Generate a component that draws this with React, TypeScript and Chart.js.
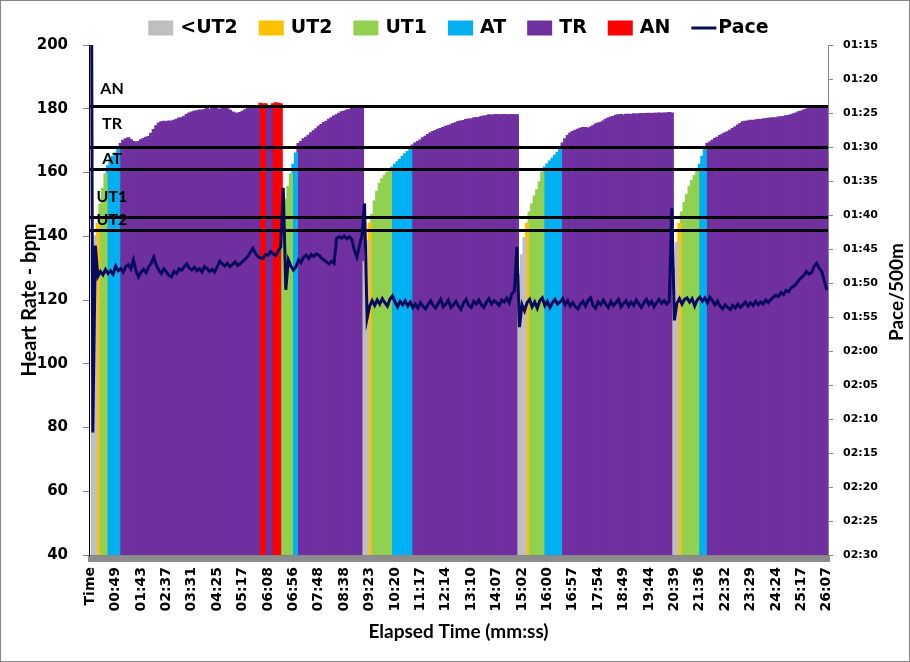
import { useEffect, useRef } from "react";
import { Chart, registerables } from "chart.js";

Chart.register(...registerables);

// X tick labels: one every 10 samples
const tickLabels = [
  "Time", "00:49", "01:43", "02:37", "03:31", "04:25", "05:17", "06:08", "06:56", "07:48",
  "08:38", "09:23", "10:20", "11:17", "12:14", "13:10", "14:07", "15:02", "16:00", "16:57",
  "17:54", "18:49", "19:44", "20:39", "21:36", "22:32", "23:29", "24:24", "25:17", "26:07",
];
const labelEvery = 10;

// Heart rate (bpm) per sample
const hrPiece1 = [
  null, 136, 140, 144, 150, 155, 159.5, 162, 164, 165, 166, 167.3,
  169, 170, 170.5, 170.8, 170.2, 169.6, 169.4, 169.6, 170.2, 170.6, 171, 171.2, 172.2, 173.4,
  174.6, 175.4, 175.8, 176, 175.8, 176.1, 176, 176.3, 176.6, 177, 177.1, 177.5, 178.1, 178.6,
  178.9, 179.1, 179.3, 179.5, 179.4, 179.7, 180, 179.6, 180, 180.1, 179.9, 179.7, 180.1, 180.2,
  179.9, 179.4, 178.9, 178.6, 178.5, 178.7, 179.1, 179.6, 180.1, 180.3, 180.5, 180.6, 180.7,
  181.6, 181.4, 181.5, 180.7, 180.8, 181.5, 181.8, 181.6, 181.5,
];
const hrPiece2 = [
  147, 151.5, 155.5, 159.5, 162.5, 166, 169, 169.6, 170.5, 171, 171.6, 172.4, 173, 173.6,
  174.4, 175, 175.6, 176, 176.6, 177.1, 177.6, 178, 178.5, 179, 179.1, 179.5, 179.6, 180,
  180.1, 180, 180.2, 180.1,
];
const hrPiece3 = [
  132, 138.5, 144, 146.8, 151, 154, 156.5, 158, 159, 160, 160.7, 161.6, 162.5, 163.3, 164,
  165, 165.8, 166.5, 167.4, 168.5, 169.2, 169.6, 170.1, 170.8, 171.3, 171.8, 172.4, 172.8,
  173.1, 173.5, 173.7, 174, 174.4, 174.6, 174.9, 175.3, 175.5, 175.9, 176.1, 176.2, 176.5,
  176.7, 176.7, 177, 177.2, 177.2, 177.5, 177.6, 177.7, 178, 177.9, 178, 178.1, 178, 178,
  178.1, 178, 178, 178.1, 178, 178,
];
const hrPiece4 = [
  128, 134, 139.5, 144, 147.5, 150, 152.5, 154.5, 157, 160, 161.6, 162.6, 163.5, 164.4, 165.3,
  166.2, 167.3, 169.2, 170.5, 171.5, 172.3, 172.8, 173.2, 173.5, 173.8, 174, 174, 173.8,
  174.2, 174.6, 175.1, 175.4, 175.6, 176.1, 176.6, 177, 177.3, 177.5, 177.9, 178, 178.1,
  177.9, 178.2, 178.2, 178.1, 178.3, 178.2, 178.3, 178.4, 178.3, 178.4, 178.5, 178.4, 178.5,
  178.5, 178.6, 178.5, 178.6, 178.6, 178.7, 178.6,
];
const hrPiece5 = [
  130, 138, 144, 147.5, 150.5, 153, 155.5, 157.5, 159, 160.5, 162.5, 165, 167.5, 169, 169.5,
  170, 170.6, 171, 171.5, 172, 172.4, 172.7, 173.2, 173.7, 174.2, 174.8, 175.3, 175.8, 176,
  176.1, 176.3, 176.2, 176.4, 176.5, 176.5, 176.7, 176.8, 176.9, 177, 177.1, 177, 177.3,
  177.4, 177.5, 177.7, 177.8, 178, 178.3, 178.6, 179, 179.2, 179.5, 179.8, 180.1, 180.2,
  180.2, 180.3, 180.2, 180.3, 180.3, 180.2,
];

// Pace per 500m in seconds per sample
const pacePiece1 = [
  0, 132, 104.5, 109, 108.3, 108.8, 108, 108.6, 108.2, 108.7, 107.5, 108.2, 107.9, 108.4,
  107.6, 107.3, 107.9, 106.6, 108.2, 109.1, 108.4, 108, 108.5, 107.6, 107.1, 106.2, 107.4,
  108.1, 108.6, 107.9, 108.4, 108.9, 109.1, 108.3, 108.6, 107.9, 108.1, 107.6, 107.2, 107.8,
  108.1, 107.7, 108.2, 107.9, 108.4, 107.6, 107.9, 108.3, 108, 108.4, 107.6, 106.8, 107.2,
  107.5, 107.1, 107.6, 107.3, 106.9, 107.4, 107.2, 106.8, 106.5, 106.1, 105.5, 104.9, 105.6,
  106.1, 106.3, 106.4, 105.8, 105.9, 105.4, 105.7, 106, 105.3, 104.7,
];
const pacePiece2 = [
  96, 111, 106.6, 107.5, 108.1, 107.6, 106.6, 107, 106.2, 105.9, 106.4, 105.8, 106.1, 105.7,
  105.9, 106.3, 106.6, 106.9, 107.2, 106.8, 107.1, 103.4, 103.2, 103.4, 103.1, 103.5, 103.2,
  103.6, 105.2, 106.2, 104.5, 103,
];
const pacePiece3 = [
  98.3, 115.2, 113.4, 112.6, 113.3, 112.5, 113.1, 112.3, 112.9, 113.4, 112.4, 111.9, 112.8,
  113.5, 112.7, 113.2, 112.6, 113.4, 112.8, 113.6, 113.1, 113.7, 112.9, 113.4, 113.8, 113.2,
  112.6, 113.3, 113.7, 113, 112.4, 113.5, 113.1, 112.5, 113.6, 113.2, 112.7, 113.4, 113.9,
  112.9, 112.4, 113.3, 113.6, 112.7, 113.1, 112.5, 113.2, 113.6, 112.8, 112.3, 113.1, 112.6,
  112.9, 113.3, 112.5, 112.8, 112.2, 112.9, 111.6, 111.2, 104.7,
];
const pacePiece4 = [
  116.5, 113.2, 114.1, 112.9, 112.4, 113.5, 112.8, 113.7, 112.6, 112.2, 113.3, 112.7, 113.6,
  112.9, 112.4, 113.1, 112.8, 112.3, 113.2, 112.6, 113.4, 112.9, 113.5, 113.8, 113.1, 112.7,
  113.4, 112.6, 112.2, 113.3, 113.7, 112.8, 113.2, 112.5, 113.1, 113.6, 112.7, 113.3, 112.9,
  112.4, 113.5, 113, 112.6, 113.4, 112.8, 113.3, 112.5, 113.1, 113.6, 112.9, 112.4, 113.2,
  112.7, 113.5, 112.9, 112.4, 113, 112.6, 113.1, 112.7, 99,
];
const pacePiece5 = [
  115.5, 113, 112.3, 113.1, 112.4, 112.2, 112.8, 112.3, 113.4, 112.5, 112.1, 112.7, 112.2,
  112.9, 112.1, 112.6, 113.2, 112.7, 113.4, 113.8, 113.2, 113.6, 113.9, 113.3, 113.7, 113.1,
  113.6, 113.2, 112.8, 113.4, 112.9, 113.3, 112.7, 113.2, 112.8, 113.1, 112.5, 112.9, 112.4,
  112.1, 111.8, 112, 111.4, 111.7, 111.1, 111.3, 110.7, 110.5, 110.1, 109.6, 109.2, 108.9,
  108.3, 108.7, 108.5, 107.6, 107.1, 107.8, 108.3, 109.6, 111,
];

const heartRate: (number | null)[] = [...hrPiece1, ...hrPiece2, ...hrPiece3, ...hrPiece4, ...hrPiece5];
const pace: number[] = [...pacePiece1, ...pacePiece2, ...pacePiece3, ...pacePiece4, ...pacePiece5];
const categories = heartRate.map((_, i) => String(i));

// Training zones
const zoneNames = ["<UT2", "UT2", "UT1", "AT", "TR", "AN"];
const zoneColors = ["#BFBFBF", "#FFC000", "#92D050", "#00B0F0", "#7030A0", "#FF0000"];
const zoneLower = [0, 142, 146, 161, 168, 181];

// Threshold lines
const thresholdNames = ["UT2", "UT1", "AT", "TR", "AN"];
const thresholdValues = [142, 146, 161, 168, 181];
const thresholdLabelOffsets = [-10, -20, -10, -23, -17];

const paceColor = "#0a0a5c";

function zoneOf(v: number) {
  let z = 0;
  for (let k = 0; k < zoneLower.length; k++) if (v >= zoneLower[k]) z = k;
  return z;
}

function fmtPace(v: number) {
  const m = Math.floor(v / 60);
  const s = Math.round(v - m * 60);
  return `${String(m).padStart(2, "0")}:${String(s).padStart(2, "0")}`;
}

const thresholdPlugin = {
  id: "thresholds",
  beforeDatasetDraw(chart: any, args: any) {
    if (args.meta.type !== "line") return;
    const { ctx, chartArea } = chart;
    const y = chart.scales.y;
    ctx.save();
    ctx.strokeStyle = "#000";
    ctx.lineWidth = 3;
    thresholdValues.forEach((v) => {
      const py = Math.round(y.getPixelForValue(v)) + 0.5;
      ctx.beginPath();
      ctx.moveTo(chartArea.left, py);
      ctx.lineTo(chartArea.right, py);
      ctx.stroke();
    });
    ctx.fillStyle = "#000";
    ctx.font = "bold 16px Lato";
    ctx.textAlign = "center";
    ctx.textBaseline = "middle";
    thresholdValues.forEach((v, k) => {
      const py = y.getPixelForValue(v) + thresholdLabelOffsets[k];
      ctx.fillText(thresholdNames[k], chartArea.left + 23, py);
    });
    ctx.restore();
  },
};

const decorPlugin = {
  id: "decor",
  beforeDraw(chart: any) {
    const { ctx, width, height } = chart;
    ctx.save();
    ctx.fillStyle = "#fff";
    ctx.fillRect(0, 0, width, height);
    ctx.restore();
  },
  afterDraw(chart: any) {
    const { ctx, chartArea, width, height } = chart;
    ctx.save();
    // legend
    ctx.font = "bold 19px 'DejaVu Sans'";
    ctx.textBaseline = "middle";
    ctx.textAlign = "left";
    const items = chart.data.datasets.map((ds: any) => ({
      label: ds.label,
      color: ds.type === "line" ? ds.borderColor : ds.backgroundColor,
      isLine: ds.type === "line",
      w: 0,
    }));
    const boxW = 25, boxH = 15, gapText = 7, gapItem = 21, lineW = 25, lineGap = 2;
    let total = 0;
    items.forEach((it: any, k: number) => {
      it.w = (it.isLine ? lineW + lineGap : boxW + gapText) + ctx.measureText(it.label).width;
      total += it.w + (k ? gapItem : 0);
    });
    let x = (chartArea.left + chartArea.right) / 2 - total / 2;
    const cy = 28;
    items.forEach((it: any) => {
      if (it.isLine) {
        ctx.strokeStyle = it.color;
        ctx.lineWidth = 3;
        ctx.beginPath();
        ctx.moveTo(x, cy);
        ctx.lineTo(x + lineW, cy);
        ctx.stroke();
        ctx.fillStyle = "#000";
        ctx.fillText(it.label, x + lineW + lineGap, cy);
      } else {
        ctx.fillStyle = it.color;
        ctx.fillRect(x, cy - boxH / 2, boxW, boxH);
        ctx.fillStyle = "#000";
        ctx.fillText(it.label, x + boxW + gapText, cy);
      }
      x += it.w + gapItem;
    });
    // right axis title
    ctx.save();
    ctx.translate(897, 292);
    ctx.rotate(-Math.PI / 2);
    ctx.font = "bold 19px Lato";
    ctx.textAlign = "center";
    ctx.textBaseline = "middle";
    ctx.fillStyle = "#000";
    ctx.fillText("Pace/500m", 0, 0);
    ctx.restore();
    // frame
    ctx.strokeStyle = "#868686";
    ctx.lineWidth = 1;
    ctx.strokeRect(0.5, 0.5, width - 1, height - 1);
    ctx.restore();
  },
};

export default function App() {
  const ref = useRef<HTMLCanvasElement>(null);
  useEffect(() => {
    const canvas = ref.current;
    if (!canvas) return;
    const zoneDatasets = zoneNames.map((name, z) => ({
      type: "bar" as const,
      label: name,
      data: heartRate.map((v) => (v != null && zoneOf(v) === z ? v : null)),
      backgroundColor: zoneColors[z],
      borderWidth: 0,
      barPercentage: 1,
      categoryPercentage: 1,
      inflateAmount: 0.8,
      grouped: false,
      yAxisID: "y",
      order: 2,
    }));
    const paceDataset = {
      type: "line" as const,
      label: "Pace",
      data: pace,
      borderColor: paceColor,
      backgroundColor: paceColor,
      borderWidth: 3,
      pointRadius: 0,
      tension: 0,
      yAxisID: "y2",
      order: 0,
    };
    const tickFont = { family: "'DejaVu Sans'", weight: "bold" as const };
    const chart = new Chart(canvas, {
      type: "bar",
      data: { labels: categories, datasets: [...zoneDatasets, paceDataset] as any },
      options: {
        responsive: false,
        animation: false,
        layout: { padding: { top: 45, left: 0, right: 0, bottom: 0 } },
        plugins: { legend: { display: false }, tooltip: { enabled: false } },
        scales: {
          x: {
            type: "category",
            offset: true,
            grid: {
              display: true,
              drawOnChartArea: false,
              drawTicks: true,
              tickLength: 7,
              tickColor: "#8c8c8c",
              tickWidth: 3,
            },
            border: { display: true, color: "#868686", width: 1 },
            ticks: {
              autoSkip: false,
              minRotation: 90,
              maxRotation: 90,
              padding: 5,
              color: "#000",
              font: { ...tickFont, size: 14 },
              callback: (_v: any, i: number) =>
                i % labelEvery === 0 ? tickLabels[i / labelEvery] ?? "" : "",
            },
            title: {
              display: true,
              text: "Elapsed Time (mm:ss)",
              color: "#000",
              font: { family: "Lato", weight: "bold", size: 19 },
              padding: { top: 0, bottom: 19 },
            },
            afterFit: (s: any) => {
              s.height = 107;
            },
          },
          y: {
            position: "left",
            min: 40,
            max: 200,
            ticks: { stepSize: 20, padding: 15, color: "#000", font: { ...tickFont, size: 15 } },
            grid: { drawOnChartArea: false, tickLength: 6, tickColor: "#868686" },
            border: { color: "#000", width: 1 },
            title: {
              display: true,
              text: "Heart Rate - bpm",
              color: "#000",
              font: { family: "Lato", weight: "bold", size: 20 },
              padding: { top: 18, bottom: 0 },
            },
            afterFit: (s: any) => {
              s.width = 89;
            },
          },
          y2: {
            position: "right",
            min: 75,
            max: 150,
            reverse: true,
            ticks: {
              stepSize: 5,
              padding: 10,
              color: "#000",
              font: { ...tickFont, size: 11 },
              callback: (v: any) => fmtPace(Number(v)),
            },
            grid: { drawOnChartArea: false, tickLength: 5, tickColor: "#868686" },
            border: { color: "#868686", width: 1 },
            afterFit: (s: any) => {
              s.width = 82;
            },
          },
        },
      } as any,
      plugins: [thresholdPlugin, decorPlugin],
    });
    return () => chart.destroy();
  }, []);
  return (
    <div style={{ position: "absolute", left: 0, top: 0, width: 910, height: 662, background: "#fff" }}>
      <canvas ref={ref} width={910} height={662} style={{ display: "block" }} />
    </div>
  );
}
